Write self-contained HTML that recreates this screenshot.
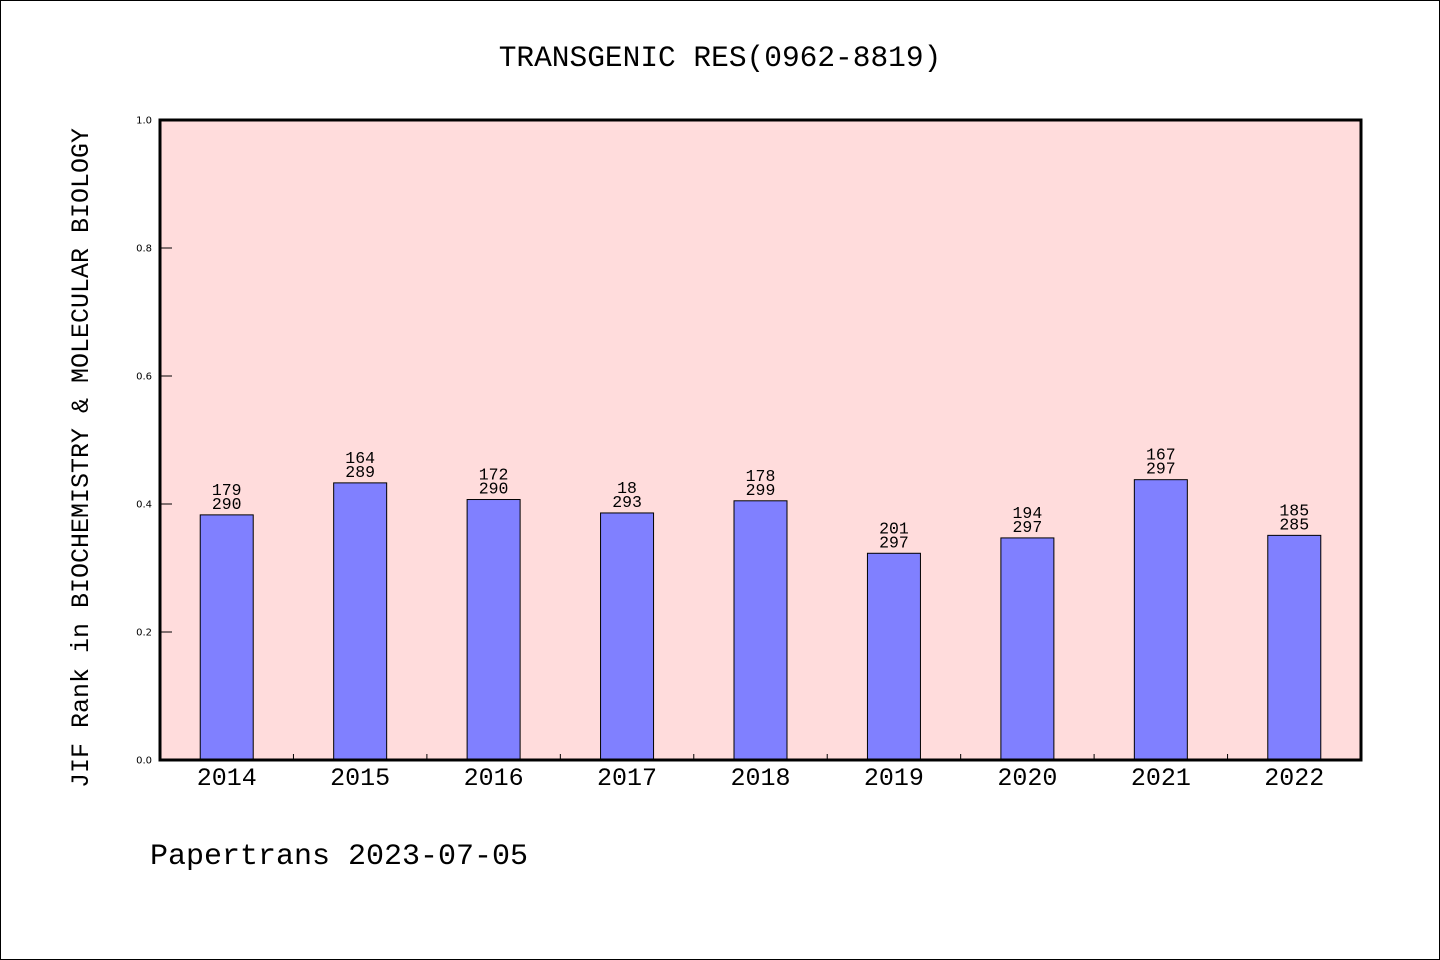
<!DOCTYPE html>
<html><head><meta charset="utf-8"><style>
body{margin:0;background:#fff}
svg{display:block}
text{font-family:"Liberation Mono","DejaVu Sans Mono",monospace;fill:#000}
text.sans{font-family:"DejaVu Sans","Liberation Sans",sans-serif}
</style></head><body>
<svg id="chart" width="1440" height="960" xmlns="http://www.w3.org/2000/svg">
<rect x="0.5" y="0.5" width="1439" height="959" fill="#fff" stroke="#000" stroke-width="1"/>
<text x="720" y="66" font-size="29.5" text-anchor="middle">TRANSGENIC RES(0962-8819)</text>
<rect x="160" y="120" width="1201" height="640" fill="#ffdcdc"/>
<g id="marks"></g>
<rect x="160" y="120" width="1201" height="640" fill="none" stroke="#000" stroke-width="3"/>
<text transform="translate(88,458) rotate(-90)" font-size="25" text-anchor="middle">JIF Rank in BIOCHEMISTRY &amp; MOLECULAR BIOLOGY</text>
<text x="150" y="864" font-size="30">Papertrans 2023-07-05</text>
</svg>
<script>
const categories=["2014","2015","2016","2017","2018","2019","2020","2021","2022"];
const values=[0.383,0.433,0.407,0.386,0.405,0.323,0.347,0.438,0.351];
const rankLabels=["179","164","172","18","178","201","194","167","185"];
const totalLabels=["290","289","290","293","299","297","297","297","285"];
const yTicks=[0,0.2,0.4,0.6,0.8,1.0];
const yTickLabels=["0.0","0.2","0.4","0.6","0.8","1.0"];
const X0=160,X1=1361,Y0=760,Y1=120;
const NS="http://www.w3.org/2000/svg";
const g=document.getElementById('marks');
const slot=(X1-X0)/categories.length;
function xScale(i){return X0+slot*(i+0.5);}
function yScale(v){return Y0-(Y0-Y1)*v;}
function mk(tag,attrs,txt){const e=document.createElementNS(NS,tag);for(const k in attrs)e.setAttribute(k,attrs[k]);if(txt!==undefined)e.textContent=txt;g.appendChild(e);return e;}
yTicks.forEach((t,i)=>{
  const y=yScale(t);
  const l=mk('line',{x1:160,x2:172,y1:y,y2:y,stroke:'#000','stroke-width':1});
  
  
  const tx=mk('text',{x:152,y:y+3.5,'font-size':10,'text-anchor':'end','class':'sans'},yTickLabels[i]);
  
  
});
for(let i=1;i<categories.length;i++){
  const x=X0+slot*i;
  const l=mk('line',{x1:x,x2:x,y1:Y0-6,y2:Y0,stroke:'#000','stroke-width':1});
  
  
}
const bw=53;
categories.forEach((c,i)=>{
  const cx=xScale(i),top=yScale(values[i]);
  const r=mk('rect',{x:cx-bw/2,y:top,width:bw,height:Y0-top,fill:'#8080ff',stroke:'#000','stroke-width':1});
  
  
  const a=mk('text',{x:cx,y:top-20,'font-size':16.5,'text-anchor':'middle'},rankLabels[i]);
  
  
  const b=mk('text',{x:cx,y:top-6,'font-size':16.5,'text-anchor':'middle'},totalLabels[i]);
  
  
  const xl=mk('text',{x:cx,y:785,'font-size':25,'text-anchor':'middle'},c);
  
  
});
</script>
</body></html>
